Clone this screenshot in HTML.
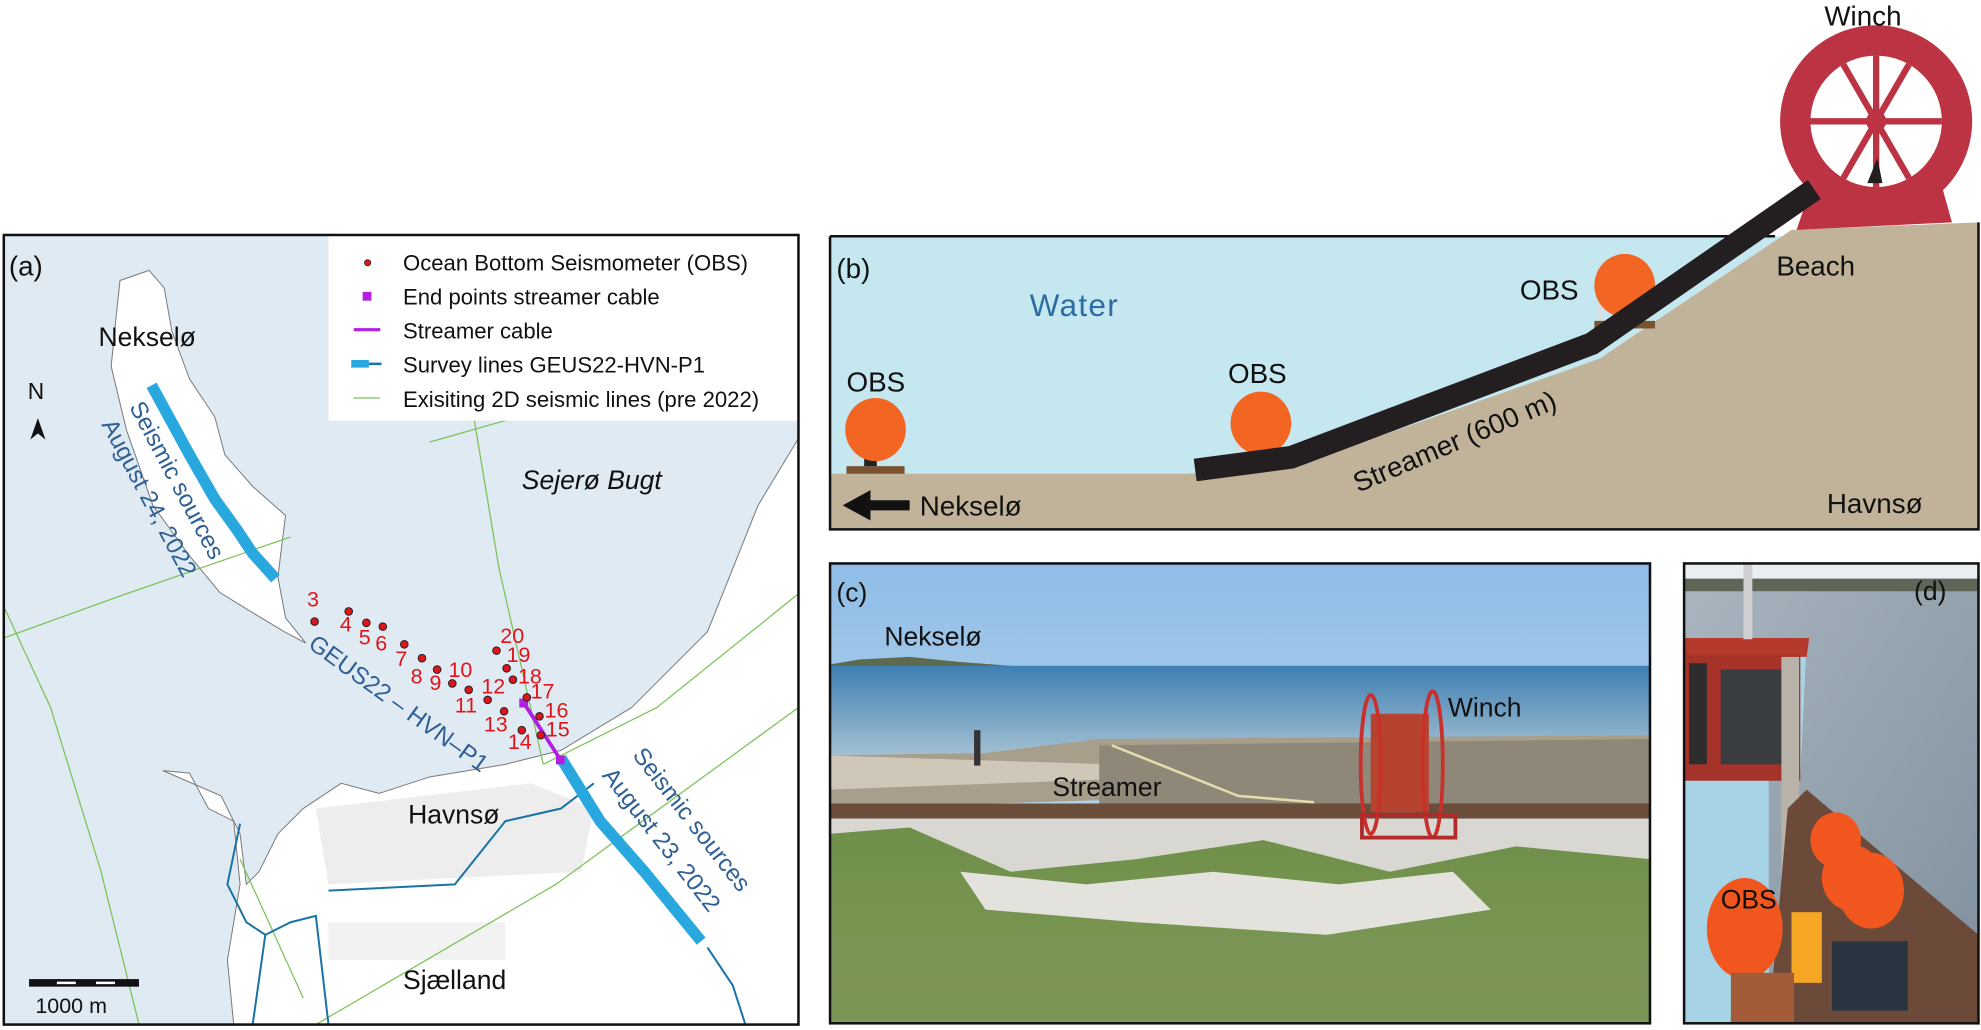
<!DOCTYPE html>
<html><head><meta charset="utf-8"><style>
html,body{margin:0;padding:0;background:#fff;}
svg{display:block;}
text{font-family:"Liberation Sans",sans-serif;}
</style></head><body>
<svg width="1981" height="1030" viewBox="0 0 1568 815.3" preserveAspectRatio="none" xmlns="http://www.w3.org/2000/svg">
<defs>
<linearGradient id="sky" x1="0" y1="0" x2="0" y2="1"><stop offset="0" stop-color="#8fbde6"/><stop offset="1" stop-color="#d7e6f0"/></linearGradient>
<linearGradient id="sea" x1="0" y1="0" x2="0" y2="1"><stop offset="0" stop-color="#3f7fb3"/><stop offset="1" stop-color="#a9c4d3"/></linearGradient>
<linearGradient id="grass" x1="0" y1="0" x2="0" y2="1"><stop offset="0" stop-color="#6f8f4a"/><stop offset="1" stop-color="#7f9a58"/></linearGradient>
<linearGradient id="dsea" x1="0" y1="0" x2="1" y2="1"><stop offset="0" stop-color="#aab6c0"/><stop offset="1" stop-color="#7f8f9c"/></linearGradient>
<clipPath id="ca"><rect x="3" y="186" width="629" height="625"/></clipPath>
</defs>

<!-- PANEL A -->
<g clip-path="url(#ca)">
<rect x="3" y="186" width="629" height="625" fill="#dfeaf3"/>
<path d="M95,222 L118,214 L130,228 L136,262 L150,300 L170,330 L178,360 L200,385 L226,408 L222,440 L220,457 L226,489 L242,509 L225,500 L200,485 L174,469 L150,440 L121,400 L100,340 L88,290 L92,250 Z" fill="#ffffff" stroke="#7a7a7a" stroke-width="0.8"/>
<path d="M129,610 L150,612 L165,640 L185,650 L190,700 L180,760 L185,811 L632,811 L632,347 L600,400 L560,500 L500,560 L444,594 L400,605 L340,615 L300,628 L270,620 L240,640 L220,660 L205,690 L195,700 L190,660 L175,630 Z" fill="#ffffff" stroke="#7a7a7a" stroke-width="0.8"/>
<path d="M250,640 L420,620 L470,640 L460,690 L260,700 Z" fill="#e6e6e6" opacity="0.7"/>
<path d="M260,730 L400,730 L400,760 L260,760 Z" fill="#eaeaea" opacity="0.6"/>
<g stroke="#7cc35a" stroke-width="1" fill="none">
<path d="M3,505 L100,470 L230,425"/>
<path d="M3,480 L40,560 L80,690 L110,811"/>
<path d="M340,350 L410,330"/>
<path d="M370,300 L395,450 L420,560 L430,605"/>
<path d="M250,811 L440,700 L632,560"/>
<path d="M430,605 L520,560 L632,470"/>
<path d="M190,680 L240,790"/>
</g>
<g stroke="#1a74a6" stroke-width="1.6" fill="none">
<path d="M190,652 L180,700 L195,730 L210,740 L230,730 L250,725 L260,811"/>
<path d="M210,740 L200,811"/>
<path d="M260,705 L360,700 L400,650 L444,640 L470,620"/>
<path d="M560,750 L580,780 L590,811"/>
</g>
<path d="M120,305 L150,360 L170,395 L188,420 L200,438 L218,458" stroke="#29a8e0" stroke-width="9" fill="none"/>
<path d="M444,600 L475,650 L510,690 L555,745" stroke="#29a8e0" stroke-width="9" fill="none"/>
<line x1="415" y1="557" x2="444" y2="602" stroke="#b21fe0" stroke-width="3"/>
<rect x="411" y="553" width="7" height="7" fill="#b21fe0"/><rect x="440" y="598" width="7" height="7" fill="#b21fe0"/>
<g fill="#e0151b" stroke="#222" stroke-width="0.8">
<circle cx="249" cy="492" r="3"/><circle cx="276" cy="484" r="3"/><circle cx="290" cy="493" r="3"/><circle cx="303" cy="496" r="3"/><circle cx="320" cy="510" r="3"/><circle cx="334" cy="521" r="3"/><circle cx="346" cy="530" r="3"/><circle cx="358" cy="541" r="3"/><circle cx="371" cy="546" r="3"/><circle cx="386" cy="554" r="3"/><circle cx="399" cy="563" r="3"/><circle cx="413" cy="578" r="3"/><circle cx="428" cy="582" r="3"/><circle cx="427" cy="567" r="3"/><circle cx="417" cy="552" r="3"/><circle cx="406" cy="538" r="3"/><circle cx="401" cy="529" r="3"/><circle cx="393" cy="515" r="3"/>
</g>
<g fill="#e0151b" font-size="17">
<text x="243" y="480">3</text><text x="269" y="500">4</text><text x="284" y="510">5</text><text x="297" y="515">6</text><text x="313" y="527">7</text><text x="325" y="541">8</text><text x="340" y="546">9</text><text x="355" y="536">10</text><text x="360" y="564">11</text><text x="381" y="549">12</text><text x="383" y="579">13</text><text x="402" y="593">14</text><text x="432" y="583">15</text><text x="431" y="568">16</text><text x="420" y="553">17</text><text x="410" y="541">18</text><text x="401" y="524">19</text><text x="396" y="509">20</text>
</g>
<rect x="260" y="186" width="372" height="147" fill="#fff"/>
<circle cx="291" cy="208" r="2.5" fill="#e0151b" stroke="#222" stroke-width="0.6"/>
<rect x="287" y="231" width="7" height="7" fill="#b21fe0"/>
<line x1="280" y1="261" x2="301" y2="261" stroke="#b21fe0" stroke-width="2.5"/>
<line x1="278" y1="288" x2="292" y2="288" stroke="#29a8e0" stroke-width="6"/><line x1="292" y1="288" x2="302" y2="288" stroke="#1a74a6" stroke-width="2"/>
<line x1="280" y1="315" x2="301" y2="315" stroke="#7cc35a" stroke-width="1"/>
<g font-size="17.5" fill="#111">
<text x="319" y="214">Ocean Bottom Seismometer (OBS)</text>
<text x="319" y="241">End points streamer cable</text>
<text x="319" y="268">Streamer cable</text>
<text x="319" y="295">Survey lines GEUS22-HVN-P1</text>
<text x="319" y="322">Exisiting 2D seismic lines (pre 2022)</text>
</g>
<text x="7" y="218" font-size="22" fill="#111">(a)</text>
<text x="78" y="274" font-size="21" fill="#111">Nekselø</text>
<text x="22" y="316" font-size="18" fill="#111">N</text>
<path d="M30,331 L36,348 L30,343 L24,348 Z" fill="#111"/>
<text x="413" y="387" font-size="21" font-style="italic" fill="#111">Sejerø Bugt</text>
<text x="323" y="652" font-size="21" fill="#111">Havnsø</text>
<text x="319" y="783" font-size="21" fill="#111">Sjælland</text>
<g fill="#2f5f95" font-size="19">
<text transform="translate(102,322) rotate(62)">Seismic sources</text>
<text transform="translate(80,336) rotate(62)">August 24, 2022</text>
<text transform="translate(243,512) rotate(36)">GEUS22 – HVN–P1</text>
<text transform="translate(500,598) rotate(52)">Seismic sources</text>
<text transform="translate(476,614) rotate(52)">August 23, 2022</text>
</g>
<rect x="23" y="775" width="87" height="6" fill="#111"/>
<rect x="45" y="777" width="15" height="2" fill="#fff"/><rect x="76" y="777" width="15" height="2" fill="#fff"/>
<text x="28" y="802" font-size="17" fill="#111">1000 m</text>
</g>
<rect x="3" y="186" width="629" height="625" fill="none" stroke="#111" stroke-width="2"/>

<!-- PANEL B -->
<rect x="657" y="187" width="909" height="232" fill="#c5e7f0"/>
<path d="M1405,187 L657,187" stroke="#111" stroke-width="2"/>
<path d="M657,375 L940,375 L1022,370 L1266,284 L1418,182 L1566,176 L1566,419 L657,419 Z" fill="#c1b29a"/>
<path d="M1433,150 L1422,182 L1545,176 L1535,140 Z" fill="#bc3444"/>
<circle cx="1485" cy="96" r="76" fill="#bc3444"/>
<circle cx="1485" cy="96" r="52" fill="#fff"/>
<g stroke="#bc3444" stroke-width="5">
<line x1="1485" y1="44" x2="1485" y2="148"/><line x1="1433" y1="96" x2="1537" y2="96"/>
<line x1="1459" y1="51" x2="1511" y2="141"/><line x1="1511" y1="51" x2="1459" y2="141"/>
</g>
<circle cx="1485" cy="96" r="8" fill="#bc3444"/>
<path d="M1478,145 L1486,125 L1490,145 Z" fill="#231f20"/>
<path d="M657,187 L657,419 L1566,419 L1566,176" fill="none" stroke="#111" stroke-width="2"/>
<g>
<rect x="676" y="342" width="3" height="28" fill="#ddd"/><rect x="708" y="342" width="3" height="28" fill="#ddd"/>
<rect x="670" y="369" width="46" height="6" fill="#7a5230"/><rect x="684" y="363" width="10" height="6" fill="#222"/>
<ellipse cx="693" cy="340" rx="24" ry="25" fill="#f26522"/>
<rect x="980" y="338" width="3" height="22" fill="#ddd"/><rect x="1012" y="338" width="3" height="22" fill="#ddd"/>
<ellipse cx="998" cy="335" rx="24" ry="25" fill="#f26522"/>
<rect x="1265" y="228" width="3" height="26" fill="#ddd"/>
<rect x="1262" y="254" width="48" height="6" fill="#7a5230"/>
<ellipse cx="1286" cy="226" rx="24" ry="25" fill="#f26522"/>
</g>
<polyline points="946,372 1022,362 1260,272 1436,150" fill="none" stroke="#231f20" stroke-width="18"/>
<g font-size="22" fill="#111">
<text x="662" y="220">(b)</text>
<text x="670" y="310">OBS</text>
<text x="972" y="303">OBS</text>
<text x="1203" y="237">OBS</text>
<text x="1406" y="218">Beach</text>
<text x="1444" y="20">Winch</text>
<text x="728" y="408">Nekselø</text>
<text x="1446" y="406">Havnsø</text>
<text transform="translate(1075,390) rotate(-23)">Streamer (600 m)</text>
</g>
<text x="815" y="250" font-size="25" fill="#2e6da4" letter-spacing="1">Water</text>
<path d="M667,400 L689,388 L689,396 L720,396 L720,404 L689,404 L689,412 Z" fill="#111"/>

<!-- PANEL C -->
<rect x="657" y="446" width="649" height="364" fill="url(#sky)"/>
<path d="M657,526 L680,522 L720,520 L760,524 L800,527 L657,529 Z" fill="#5c6a50"/>
<rect x="657" y="527" width="649" height="75" fill="url(#sea)"/>
<path d="M657,598 L780,596 L870,585 L1306,582 L1306,620 L657,640 Z" fill="#a79e8c"/>
<path d="M657,598 L880,605 L930,615 L657,625 Z" fill="#cfc7b8"/>
<path d="M870,590 L1306,585 L1306,640 L870,640 Z" fill="#8f8777"/>
<rect x="657" y="636" width="649" height="12" fill="#6a4d3a"/>
<path d="M657,648 L1306,648 L1306,810 L657,810 Z" fill="#d9d7d2"/>
<path d="M657,660 L720,655 L800,690 L900,680 L1000,665 L1100,690 L1200,670 L1306,680 L1306,810 L657,810 Z" fill="url(#grass)"/>
<path d="M760,690 L860,700 L960,690 L1060,700 L1150,690 L1180,720 L1050,740 L900,730 L780,720 Z" fill="#e4e2dd"/>
<path d="M657,740 L1306,740 L1306,810 L657,810 Z" fill="#7b9456" opacity="0.8"/>
<path d="M880,590 L980,630 L1040,635" stroke="#e7dcb0" stroke-width="2" fill="none"/>
<rect x="1085" y="565" width="46" height="78" fill="#b5432f"/>
<ellipse cx="1085" cy="605" rx="8" ry="55" fill="none" stroke="#c9302c" stroke-width="3"/>
<ellipse cx="1134" cy="605" rx="8" ry="58" fill="none" stroke="#c9302c" stroke-width="3"/>
<rect x="1078" y="645" width="74" height="18" fill="none" stroke="#b02a2a" stroke-width="3"/>
<rect x="771" y="578" width="5" height="28" fill="#333"/>
<g font-size="21" fill="#111">
<text x="662" y="476">(c)</text>
<text x="700" y="511">Nekselø</text>
<text x="1146" y="567">Winch</text>
<text x="833" y="630">Streamer</text>
</g>
<rect x="657" y="446" width="649" height="364" fill="none" stroke="#111" stroke-width="2"/>

<!-- PANEL D -->
<rect x="1333" y="446" width="233" height="364" fill="url(#dsea)"/>
<rect x="1333" y="446" width="233" height="14" fill="#e9eef2"/>
<rect x="1333" y="458" width="233" height="10" fill="#5e6658"/>
<path d="M1333,508 L1430,508 L1425,615 L1400,615 L1400,810 L1333,810 Z" fill="#a6d4e6"/>
<path d="M1333,505 L1432,505 L1430,520 L1333,520 Z" fill="#b33a2c"/>
<rect x="1333" y="518" width="92" height="100" fill="#a5332a"/>
<rect x="1337" y="525" width="14" height="80" fill="#2d2d2d"/>
<rect x="1362" y="530" width="54" height="75" fill="#3a3d3f"/>
<rect x="1410" y="520" width="14" height="290" fill="#b8b2a8"/>
<rect x="1380" y="446" width="7" height="60" fill="#cfcfcf"/>
<path d="M1430,625 L1566,740 L1566,810 L1400,810 L1415,640 Z" fill="#6b4a3a"/>
<ellipse cx="1453" cy="665" rx="20" ry="22" fill="#f0561e"/>
<ellipse cx="1466" cy="695" rx="24" ry="26" fill="#f0561e"/>
<ellipse cx="1481" cy="705" rx="26" ry="30" fill="#f0561e"/>
<ellipse cx="1381" cy="735" rx="30" ry="40" fill="#f0561e"/>
<rect x="1418" y="722" width="24" height="56" fill="#f5a623"/>
<rect x="1450" y="745" width="60" height="55" fill="#2a3440"/>
<rect x="1370" y="770" width="50" height="40" fill="#a35b3a"/>
<text x="1362" y="719" font-size="21" fill="#111">OBS</text>
<text x="1515" y="475" font-size="21" fill="#111">(d)</text>
<rect x="1333" y="446" width="233" height="364" fill="none" stroke="#111" stroke-width="2"/>
</svg>
</body></html>
